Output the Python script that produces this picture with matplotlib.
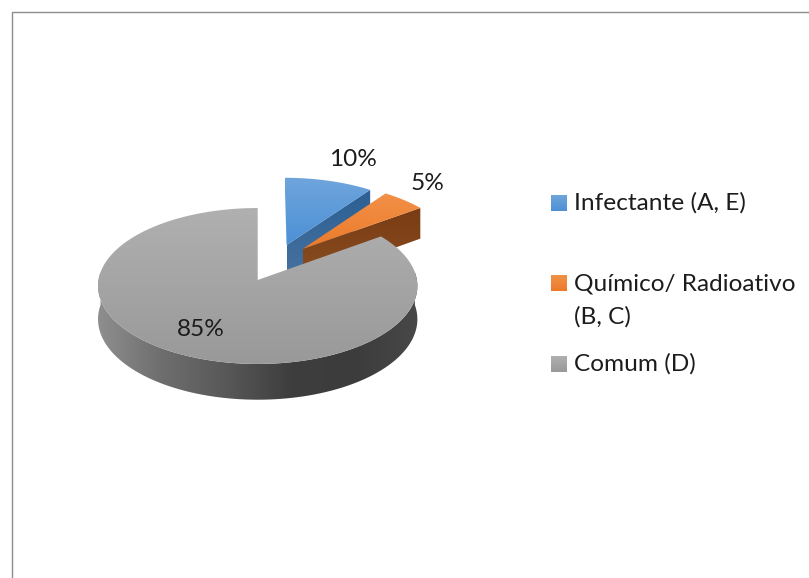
import numpy as np
import matplotlib
matplotlib.use("Agg")
import matplotlib.pyplot as plt
from matplotlib.patches import Polygon
from matplotlib.colors import LinearSegmentedColormap

categories = ["Infectante (A, E)", "Químico/ Radioativo\n(B, C)", "Comum (D)"]
values = [10, 5, 85]

top_colors = [("#6fa5dc", "#4c90d6"), ("#f29148", "#ec7a2a"), ("#b0b0b0", "#999999")]
side_colors = [("#47729f", "#2c5f94"), ("#8a4f24", "#7a3c12"), None]
explode = [(0.188, 0.468), (0.291, 0.413), (0.0, 0.0)]

# view of the pie plane
CX, CY, A, B, K, DEPTH = 257.7, 280.0, 77.5, 159.2, 0.0769, 33.0

plt.rcParams["font.family"] = ["Lato", "DejaVu Sans"]
TEXT_SIZE = 17.6
TEXT_COLOR = "#1c1c1c"

fig = plt.figure(figsize=(8.09, 5.78), dpi=100, facecolor="white")
ax = fig.add_axes([0, 0, 1, 1])


def fill_gradient(pts, stops, horizontal=False, z=1):
    pts = np.asarray(pts)
    x0, x1, y0, y1 = pts[:, 0].min(), pts[:, 0].max(), pts[:, 1].min(), pts[:, 1].max()
    cmap = LinearSegmentedColormap.from_list("g", stops)
    grad = np.linspace(0, 1, 256)
    grad = grad[None, :] if horizontal else grad[:, None]
    im = ax.imshow(grad, cmap=cmap, extent=(x0, x1, y1, y0), origin="upper",
                   aspect="auto", zorder=z, interpolation="bilinear")
    poly = Polygon(pts, closed=True, fc="none", ec="none", transform=ax.transData)
    ax.add_patch(poly)
    im.set_clip_path(poly)


def project(u, v, z=0.0):
    d = 1 + K * v
    return np.column_stack([CX + B * u / d, CY - A * v / d + DEPTH * z / d])


def arc(start, end, ex, z=0.0, n=200):
    t = np.linspace(start, end, n)
    return project(ex[0] + np.sin(t), ex[1] + np.cos(t), z)


fractions = np.array(values, dtype=float) / sum(values)
edges = np.concatenate([[0], np.cumsum(fractions)]) * 2 * np.pi

for i in range(len(values)):
    start, end = edges[i], edges[i + 1]
    ex = explode[i]
    apex_top = project(np.array([ex[0]]), np.array([ex[1]]))
    apex_bot = project(np.array([ex[0]]), np.array([ex[1]]), 1.0)
    base_z = i * 2 + 1
    if side_colors[i] is not None:
        corner_top = arc(end, end, ex, n=1)
        corner_bot = arc(end, end, ex, z=1.0, n=1)
        fill_gradient(np.vstack([apex_top, corner_top, corner_bot, apex_bot]),
                      [side_colors[i][1], side_colors[i][0]], z=base_z)
    else:
        upper = arc(np.pi / 2 - 0.1, 3 * np.pi / 2 + 0.1, ex)
        lower = arc(np.pi / 2 - 0.1, 3 * np.pi / 2 + 0.1, ex, z=1.0)
        fill_gradient(np.vstack([upper, lower[::-1]]),
                      ["#8e8e8e", "#6e6e6e", "#585858", "#3e3e3e", "#3c3c3c", "#484848"],
                      horizontal=True, z=base_z)
    fill_gradient(np.vstack([apex_top, arc(start, end, ex)]), list(top_colors[i]), z=base_z + 1)

# percentage labels
label_pos = [(353, 160), (428, 183), (201, 330)]
for val, (x, y) in zip(values, label_pos):
    ax.text(x, y, f"{val}%", ha="center", va="center", fontsize=TEXT_SIZE,
            color=TEXT_COLOR, zorder=20)

# legend
swatch_y = [203, 283, 364]
text_top = [192, 273, 353]
for i, cat in enumerate(categories):
    y = swatch_y[i]
    swatch = np.array([[551, y - 8], [567, y - 8], [567, y + 8], [551, y + 8]], dtype=float)
    fill_gradient(swatch, list(top_colors[i]), z=10)
    ax.text(574, text_top[i], cat, ha="left", va="top", fontsize=TEXT_SIZE,
            color=TEXT_COLOR, zorder=20, linespacing=1.7)

# chart frame
ax.plot([12.5, 12.5, 809], [578, 11.5, 11.5], color="#8c8c8c", lw=1, zorder=30,
        solid_joinstyle="miter")

ax.set_xlim(0, 809)
ax.set_ylim(578, 0)
ax.axis("off")
fig.savefig("out.png", dpi=100, facecolor="white")
